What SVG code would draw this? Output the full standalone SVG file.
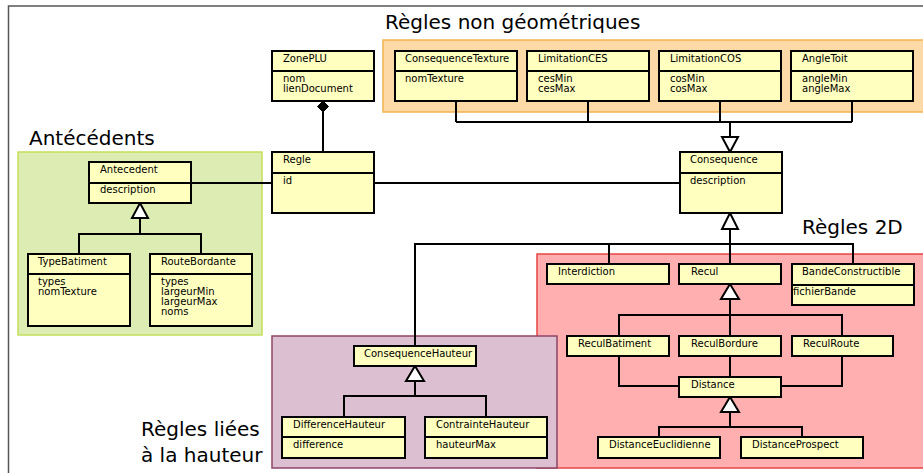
<svg xmlns="http://www.w3.org/2000/svg" width="923" height="473" viewBox="0 0 923 473">
<style>
.cls{fill:#ffffc0;stroke:#000;stroke-width:2}
.t{font-family:"DejaVu Sans",sans-serif;font-size:10px;fill:#000}
.title{font-family:"DejaVu Sans",sans-serif;font-size:20px;fill:#000}
.ln{fill:none;stroke:#000;stroke-width:2}
.tri{fill:#fff;stroke:#000;stroke-width:2}
</style>
<rect width="923" height="473" fill="#fff"/>
<path d="M8.5,480 V6 H930" fill="none" stroke="#555" stroke-width="1.5"/>

<!-- groups / packages -->
<g id="pkg-nongeo">
<rect x="383" y="40" width="545" height="72" fill="#fdd9a8" stroke="#f2b24e" stroke-width="1.5"/>
<text class="title" x="385" y="29">Règles non géométriques</text>
</g>
<g id="pkg-antecedents">
<rect x="18" y="152" width="244" height="183" fill="#ddecb3" stroke="#c3df5a" stroke-width="1.5"/>
<text class="title" x="29" y="145">Antécédents</text>
</g>
<g id="pkg-2d">
<rect x="537" y="254" width="395" height="214" fill="#ffafaf" stroke="#e84545" stroke-width="1.5"/>
<text class="title" x="802" y="234">Règles 2D</text>
</g>
<g id="pkg-hauteur">
<rect x="272" y="336" width="285" height="132" fill="#dcbfd0" stroke="#8e4468" stroke-width="1.5"/>
<text class="title" x="141" y="436">Règles liées</text>
<text class="title" x="141" y="462">à la hauteur</text>
</g>

<!-- connectors -->
<g id="connectors">
<!-- composition ZonePLU - Regle -->
<path class="ln" d="M323,112 V152"/>
<path d="M323,101 L328.5,106.5 L323,112 L317.5,106.5 Z" fill="#000" stroke="#000" stroke-width="1"/>
<!-- associations -->
<path class="ln" d="M191,183 H272"/>
<path class="ln" d="M374,183 H680"/>
<!-- Antecedent generalisation -->
<path class="ln" d="M79,254 V234 H201 V254 M140,234 V218"/>
<path class="tri" d="M140,203 L148,218 L132,218 Z"/>
<!-- non geometric -->
<path class="ln" d="M456,101 V122 M588,101 V122 M720,101 V122 M852,101 V122 M456,122 H852 M730,122 V137"/>
<path class="tri" d="M730,152 L722,137 L738,137 Z"/>
<!-- Consequence subclasses -->
<path class="tri" d="M730,213 L738,229 L722,229 Z"/>
<path class="ln" d="M730,229 V264 M415,346 V244 H853 V264 M609,244 V264"/>
<!-- Recul -->
<path class="tri" d="M730,284 L739,299 L721,299 Z"/>
<path class="ln" d="M730,299 V315 M619,336 V315 H842 V336 M730,315 V336"/>
<path class="ln" d="M619,356 V386 H679 M842,356 V386 H781 M730,356 V377"/>
<!-- Distance -->
<path class="tri" d="M730,397 L739,412 L721,412 Z"/>
<path class="ln" d="M730,412 V427 M659,437 V427 H802 V437"/>
<!-- ConsequenceHauteur -->
<path class="tri" d="M415,366 L424,381 L406,381 Z"/>
<path class="ln" d="M415,381 V396 M344,417 V396 H486 V417"/>
</g>

<!-- nodes -->
<g id="ZonePLU">
<rect class="cls" x="272" y="51" width="102" height="50"/>
<path class="ln" d="M272,71 H374"/>
<text class="t" x="283" y="62">ZonePLU</text>
<text class="t" x="283" y="82">nom</text>
<text class="t" x="283" y="92">lienDocument</text>
</g>
<g id="Regle">
<rect class="cls" x="272" y="152" width="102" height="61"/>
<path class="ln" d="M272,173 H374"/>
<text class="t" x="283" y="163">Regle</text>
<text class="t" x="283" y="184">id</text>
</g>
<g id="Antecedent">
<rect class="cls" x="89" y="162" width="102" height="41"/>
<path class="ln" d="M89,183 H191"/>
<text class="t" x="100" y="173">Antecedent</text>
<text class="t" x="100" y="193">description</text>
</g>
<g id="TypeBatiment">
<rect class="cls" x="28" y="254" width="102" height="72"/>
<path class="ln" d="M28,274 H130"/>
<text class="t" x="38" y="265">TypeBatiment</text>
<text class="t" x="38" y="285">types</text>
<text class="t" x="38" y="295">nomTexture</text>
</g>
<g id="RouteBordante">
<rect class="cls" x="150" y="254" width="102" height="72"/>
<path class="ln" d="M150,274 H252"/>
<text class="t" x="161" y="265">RouteBordante</text>
<text class="t" x="161" y="285">types</text>
<text class="t" x="161" y="295">largeurMin</text>
<text class="t" x="161" y="305">largeurMax</text>
<text class="t" x="161" y="315">noms</text>
</g>
<g id="ConsequenceTexture">
<rect class="cls" x="395" y="51" width="122" height="50"/>
<path class="ln" d="M395,71 H517"/>
<text class="t" x="405" y="62">ConsequenceTexture</text>
<text class="t" x="405" y="82">nomTexture</text>
</g>
<g id="LimitationCES">
<rect class="cls" x="527" y="51" width="122" height="50"/>
<path class="ln" d="M527,71 H649"/>
<text class="t" x="538" y="62">LimitationCES</text>
<text class="t" x="538" y="82">cesMin</text>
<text class="t" x="538" y="92">cesMax</text>
</g>
<g id="LimitationCOS">
<rect class="cls" x="659" y="51" width="122" height="50"/>
<path class="ln" d="M659,71 H781"/>
<text class="t" x="670" y="62">LimitationCOS</text>
<text class="t" x="670" y="82">cosMin</text>
<text class="t" x="670" y="92">cosMax</text>
</g>
<g id="AngleToit">
<rect class="cls" x="791" y="51" width="122" height="50"/>
<path class="ln" d="M791,71 H913"/>
<text class="t" x="802" y="62">AngleToit</text>
<text class="t" x="802" y="82">angleMin</text>
<text class="t" x="802" y="92">angleMax</text>
</g>
<g id="Consequence">
<rect class="cls" x="680" y="152" width="102" height="61"/>
<path class="ln" d="M680,173 H782"/>
<text class="t" x="690" y="163">Consequence</text>
<text class="t" x="690" y="184">description</text>
</g>
<g id="Interdiction">
<rect class="cls" x="547" y="264" width="122" height="20"/>
<text class="t" x="558" y="275">Interdiction</text>
</g>
<g id="Recul">
<rect class="cls" x="679" y="264" width="102" height="20"/>
<text class="t" x="691" y="275">Recul</text>
</g>
<g id="BandeConstructible">
<rect class="cls" x="792" y="264" width="122" height="41"/>
<path class="ln" d="M792,285 H914"/>
<text class="t" x="802" y="275">BandeConstructible</text>
<text class="t" x="793" y="295">fichierBande</text>
</g>
<g id="ReculBatiment">
<rect class="cls" x="567" y="336" width="102" height="20"/>
<text class="t" x="578" y="347">ReculBatiment</text>
</g>
<g id="ReculBordure">
<rect class="cls" x="679" y="336" width="102" height="20"/>
<text class="t" x="691" y="347">ReculBordure</text>
</g>
<g id="ReculRoute">
<rect class="cls" x="792" y="336" width="101" height="20"/>
<text class="t" x="803" y="347">ReculRoute</text>
</g>
<g id="Distance">
<rect class="cls" x="679" y="377" width="102" height="20"/>
<text class="t" x="691" y="388">Distance</text>
</g>
<g id="DistanceEuclidienne">
<rect class="cls" x="598" y="437" width="122" height="21"/>
<text class="t" x="609" y="448">DistanceEuclidienne</text>
</g>
<g id="DistanceProspect">
<rect class="cls" x="741" y="437" width="122" height="21"/>
<text class="t" x="752" y="448">DistanceProspect</text>
</g>
<g id="ConsequenceHauteur">
<rect class="cls" x="354" y="346" width="122" height="20"/>
<text class="t" x="364" y="357">ConsequenceHauteur</text>
</g>
<g id="DifferenceHauteur">
<rect class="cls" x="282" y="417" width="123" height="41"/>
<path class="ln" d="M282,437 H405"/>
<text class="t" x="293" y="428">DifferenceHauteur</text>
<text class="t" x="293" y="448">difference</text>
</g>
<g id="ContrainteHauteur">
<rect class="cls" x="425" y="417" width="122" height="41"/>
<path class="ln" d="M425,437 H547"/>
<text class="t" x="436" y="428">ContrainteHauteur</text>
<text class="t" x="436" y="448">hauteurMax</text>
</g>
</svg>
